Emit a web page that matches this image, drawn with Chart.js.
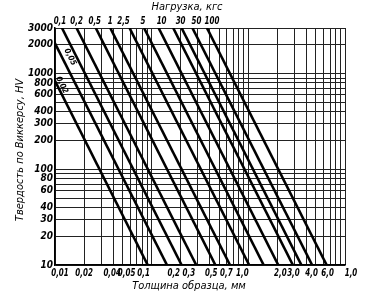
<!DOCTYPE html>
<html>
<head>
<meta charset="utf-8">
<script src="https://cdn.jsdelivr.net/npm/chart.js@4.4.1/dist/chart.umd.min.js"></script>
<style>
    body { margin: 0; background: #fff; }
    canvas { display: block; }
</style>
</head>
<body>
<canvas id="hvChart" width="366" height="303"></canvas>
<script>
// Loads, kgf (one line per load) and the label printed above the chart
const loads = [0.02, 0.05, 0.1, 0.2, 0.5, 1, 2.5, 5, 10, 20, 30, 50, 100];
const loadLabels = ['', '', '0,1', '0,2', '0,5', '1', '2,5', '5', '10', '', '30', '50', '100'];

// Thickness (mm) where each line meets HV = 3000 and HV = 10
const thicknessTop = [0.0053, 0.0083, 0.0118, 0.0167, 0.0264, 0.0373, 0.059, 0.0834, 0.118, 0.167, 0.204, 0.264, 0.373];
const thicknessBottom = [0.091, 0.144, 0.204, 0.289, 0.456, 0.646, 1.02, 1.44, 2.04, 2.89, 3.54, 4.57, 6.46];
const hvTop = 3000;
const hvBottom = 10;

// Grid lines
const xGrid = [0.01, 0.02, 0.03, 0.04, 0.05, 0.06, 0.07, 0.08, 0.09,
    0.1, 0.2, 0.3, 0.4, 0.5, 0.6, 0.7, 0.8, 0.9,
    1, 2, 3, 4, 5, 6, 7, 8, 9, 10];
const yGrid = [10, 20, 30, 40, 50, 60, 70, 80, 90, 100, 200, 300, 400, 500, 600, 700, 800, 900, 1000, 2000, 3000];

// Tick labels
const xTickValues = [0.01, 0.02, 0.04, 0.05, 0.1, 0.2, 0.3, 0.5, 0.7, 1, 2, 3, 4, 6, 10];
const xTickText = ['0,01', '0,02', '0,04', '0,05', '0,1', '0,2', '0,3', '0,5', '0,7', '1,0', '2,0', '3,0', '4,0', '6,0', '1,0'];
const yTickLabels = {10: '10', 20: '20', 30: '30', 40: '40', 60: '60', 80: '80', 100: '100', 200: '200', 300: '300',
    400: '400', 600: '600', 800: '800', 1000: '1000', 2000: '2000', 3000: '3000'};

// hand lettering sits a little off the grid lines (px)
const xTickNudge = [5, 0, -1, 4, -8, -7, -9, -8, -7, -6, 3, -1, 5, 4, 6];
const loadNudge = [0, 0, -2, 0, -1, 0, -6, -1, 3, 0, -1, 4, 5];

// Labels written along the two lines that start on the left edge
const lineNotes = [
    {text: '0,05', x: 0.0143, y: 1490},
    {text: '0,02', x: 0.0118, y: 760}
];

const condensed = "'DejaVu Sans Condensed', 'Liberation Sans Narrow', sans-serif";

const datasets = loads.map((load, i) => ({
    label: String(load),
    data: [{x: thicknessTop[i], y: hvTop}, {x: thicknessBottom[i], y: hvBottom}],
    showLine: true,
    borderColor: '#000',
    borderWidth: 2.6,
    pointRadius: 0
}));

function narrowText(ctx, text, x, y, squeeze) {
    ctx.save();
    ctx.translate(x, y);
    ctx.scale(squeeze, 1);
    ctx.fillText(text, 0, 0);
    ctx.restore();
}

// Titles, x labels, load labels and notes
const textPlugin = {
    id: 'nomogramText',
    afterDraw(chart) {
        const ctx = chart.ctx;
        const xs = chart.scales.x;
        const ys = chart.scales.y;
        ctx.save();
        ctx.fillStyle = '#000';
        ctx.textAlign = 'center';
        ctx.textBaseline = 'middle';

        ctx.font = 'italic 11px ' + condensed;
        ctx.fillText('Нагрузка, кгс', 187, 7);
        ctx.fillText('Толщина образца, мм', 189, 286);
        ctx.save();
        ctx.translate(20, 150);
        ctx.rotate(-Math.PI / 2);
        ctx.fillText('Твердость по Виккерсу, HV', 0, 0);
        ctx.restore();

        ctx.font = 'italic bold 11px ' + condensed;
        xTickValues.forEach((v, i) => {
            narrowText(ctx, xTickText[i], xs.getPixelForValue(v) + xTickNudge[i], 273, 0.72);
        });
        loads.forEach((load, i) => {
            if (!loadLabels[i]) return;
            narrowText(ctx, loadLabels[i], xs.getPixelForValue(thicknessTop[i]) + loadNudge[i], 21, 0.72);
        });

        ctx.font = 'italic bold 8px ' + condensed;
        lineNotes.forEach(n => {
            ctx.save();
            ctx.translate(xs.getPixelForValue(n.x), ys.getPixelForValue(n.y));
            ctx.rotate(Math.atan(1.98));
            ctx.fillText(n.text, 0, 0);
            ctx.restore();
        });
        ctx.restore();
    }
};

const ctx = document.getElementById('hvChart').getContext('2d');
const hvChart = new Chart(ctx, {
    type: 'scatter',
    data: { datasets },
    options: {
        responsive: false,
        animation: false,
        layout: { padding: { left: 0, right: 21, top: 28, bottom: 0 } },
        plugins: {
            legend: { display: false },
            tooltip: { enabled: false }
        },
        scales: {
            x: {
                type: 'logarithmic',
                position: 'bottom',
                min: 0.01,
                max: 10,
                afterBuildTicks: axis => { axis.ticks = xGrid.map(v => ({value: v})); },
                afterFit: axis => { axis.height = 38; },
                grid: { color: '#222', lineWidth: 1, drawTicks: false },
                border: { color: '#000', width: 1.5 },
                ticks: { display: false }
            },
            y: {
                type: 'logarithmic',
                min: 10,
                max: 3000,
                afterBuildTicks: axis => { axis.ticks = yGrid.map(v => ({value: v})); },
                afterFit: axis => { axis.width = 55; },
                grid: { color: '#222', lineWidth: 1, drawTicks: false },
                border: { color: '#000', width: 1.5 },
                ticks: {
                    autoSkip: false,
                    padding: 2,
                    color: '#000',
                    font: { family: condensed, size: 10, style: 'italic', weight: 'bold' },
                    callback: v => yTickLabels[v] || ''
                }
            }
        }
    },
    plugins: [textPlugin]
});
</script>
</body>
</html>
